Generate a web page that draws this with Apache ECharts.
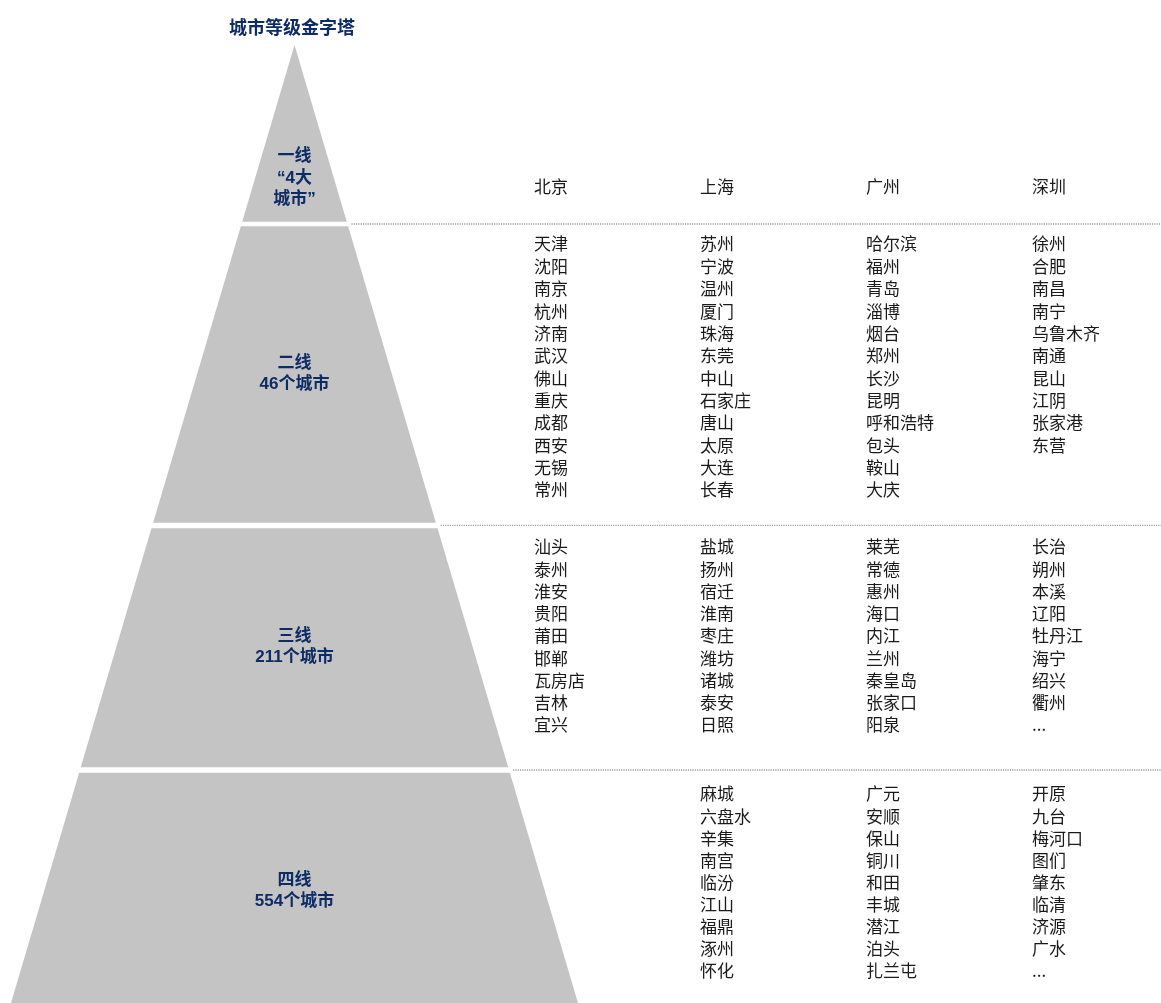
<!DOCTYPE html>
<html>
<head>
<meta charset="utf-8">
<script src="https://cdn.jsdelivr.net/npm/echarts@6/dist/echarts.min.js"></script>
<style>html,body{margin:0;padding:0;background:#fff;}#c{width:1161px;height:1003px;}</style>
</head>
<body>
<div id="c"></div>
<script>
// ---------------- data ----------------
const chartTitle = '城市等级金字塔';
const tierLabels = ['一线\n“4大\n城市”', '二线\n46个城市', '三线\n211个城市', '四线\n554个城市'];
const tier1Columns = [['北京'], ['上海'], ['广州'], ['深圳']];
const tier2Columns = [
  ['天津', '沈阳', '南京', '杭州', '济南', '武汉', '佛山', '重庆', '成都', '西安', '无锡', '常州'],
  ['苏州', '宁波', '温州', '厦门', '珠海', '东莞', '中山', '石家庄', '唐山', '太原', '大连', '长春'],
  ['哈尔滨', '福州', '青岛', '淄博', '烟台', '郑州', '长沙', '昆明', '呼和浩特', '包头', '鞍山', '大庆'],
  ['徐州', '合肥', '南昌', '南宁', '乌鲁木齐', '南通', '昆山', '江阴', '张家港', '东营']
];
const tier3Columns = [
  ['汕头', '泰州', '淮安', '贵阳', '莆田', '邯郸', '瓦房店', '吉林', '宜兴'],
  ['盐城', '扬州', '宿迁', '淮南', '枣庄', '潍坊', '诸城', '泰安', '日照'],
  ['莱芜', '常德', '惠州', '海口', '内江', '兰州', '秦皇岛', '张家口', '阳泉'],
  ['长治', '朔州', '本溪', '辽阳', '牡丹江', '海宁', '绍兴', '衢州', '...']
];
const tier4Columns = [
  [],
  ['麻城', '六盘水', '辛集', '南宫', '临汾', '江山', '福鼎', '涿州', '怀化'],
  ['广元', '安顺', '保山', '铜川', '和田', '丰城', '潜江', '泊头', '扎兰屯'],
  ['开原', '九台', '梅河口', '图们', '肇东', '临清', '济源', '广水', '...']
];

// ---------------- layout (not data) ----------------
const W = 1161, H = 1003;
const apexX = 294.5, apexY = 45, baseY = 1003, baseHalf = 283.5;
const tierBands = [[apexY, 221.7], [226.3, 522.7], [528.3, 767.3], [772.7, 1003]];
const labelCenterY = [178, 374, 647, 891];
const rowStart = [187, 244, 547, 794];
const rowStep = [22, 22.35, 22.25, 22.1];
const colX = [534, 700, 866, 1032];
const dividerY = [224, 525.3, 770];
const NAVY = '#0d2b64';
const GRAY = '#c4c4c4';

function halfW(y) { return baseHalf * (y - apexY) / (baseY - apexY); }

const allTiers = [tier1Columns, tier2Columns, tier3Columns, tier4Columns];
const cityRecords = [];
allTiers.forEach((cols, t) => {
  cols.forEach((list, c) => {
    list.forEach((name, r) => cityRecords.push({ tier: t, col: c, row: r, name: name }));
  });
});

const chart = echarts.init(document.getElementById('c'), null, { renderer: 'canvas' });
chart.setOption({
  animation: false,
  backgroundColor: '#ffffff',
  title: {
    text: chartTitle,
    left: 229, top: 18, padding: 0,
    textStyle: { color: NAVY, fontSize: 18, fontWeight: 'bold', fontFamily: '"Noto Sans CJK SC", sans-serif' }
  },
  grid: { left: 0, right: 0, top: 0, bottom: 0 },
  xAxis: { type: 'value', min: 0, max: W, show: false },
  yAxis: { type: 'value', min: 0, max: H, inverse: true, show: false },
  series: [
    {
      type: 'custom', silent: true, clip: false,
      data: tierLabels.map((l, i) => [i]),
      renderItem: function (params, api) {
        const i = api.value(0);
        const top = tierBands[i][0], bot = tierBands[i][1];
        const pts = [
          api.coord([apexX - halfW(top), top]),
          api.coord([apexX + halfW(top), top]),
          api.coord([apexX + halfW(bot), bot]),
          api.coord([apexX - halfW(bot), bot])
        ];
        const c = api.coord([apexX, labelCenterY[i]]);
        return {
          type: 'group',
          children: [
            { type: 'polygon', shape: { points: pts }, style: { fill: GRAY } },
            {
              type: 'text',
              style: {
                text: tierLabels[i], x: c[0], y: c[1], align: 'center', verticalAlign: 'middle',
                fill: NAVY, lineHeight: 21.5,
                font: 'bold 17px "Liberation Sans", "Noto Sans CJK SC", sans-serif'
              }
            }
          ]
        };
      }
    },
    {
      type: 'custom', silent: true, clip: false,
      data: dividerY.map((y, i) => [i]),
      renderItem: function (params, api) {
        const y = dividerY[api.value(0)];
        const p1 = api.coord([apexX + halfW(y) + 4, y]);
        const p2 = api.coord([W, y]);
        return {
          type: 'line',
          shape: { x1: p1[0], y1: p1[1], x2: p2[0], y2: p2[1] },
          style: { stroke: '#9c9c9c', lineWidth: 1.3, lineDash: [1.2, 1.1] }
        };
      }
    },
    {
      type: 'custom', silent: true, clip: false,
      data: cityRecords.map((r, i) => [i]),
      renderItem: function (params, api) {
        const rec = cityRecords[api.value(0)];
        const p = api.coord([colX[rec.col], rowStart[rec.tier] + rec.row * rowStep[rec.tier]]);
        return {
          type: 'text',
          style: {
            text: rec.name, x: p[0], y: p[1], align: 'left', verticalAlign: 'middle',
            fill: '#1a1a1a', font: '17px "Noto Sans CJK SC", sans-serif'
          }
        };
      }
    }
  ]
});
</script>
</body>
</html>
